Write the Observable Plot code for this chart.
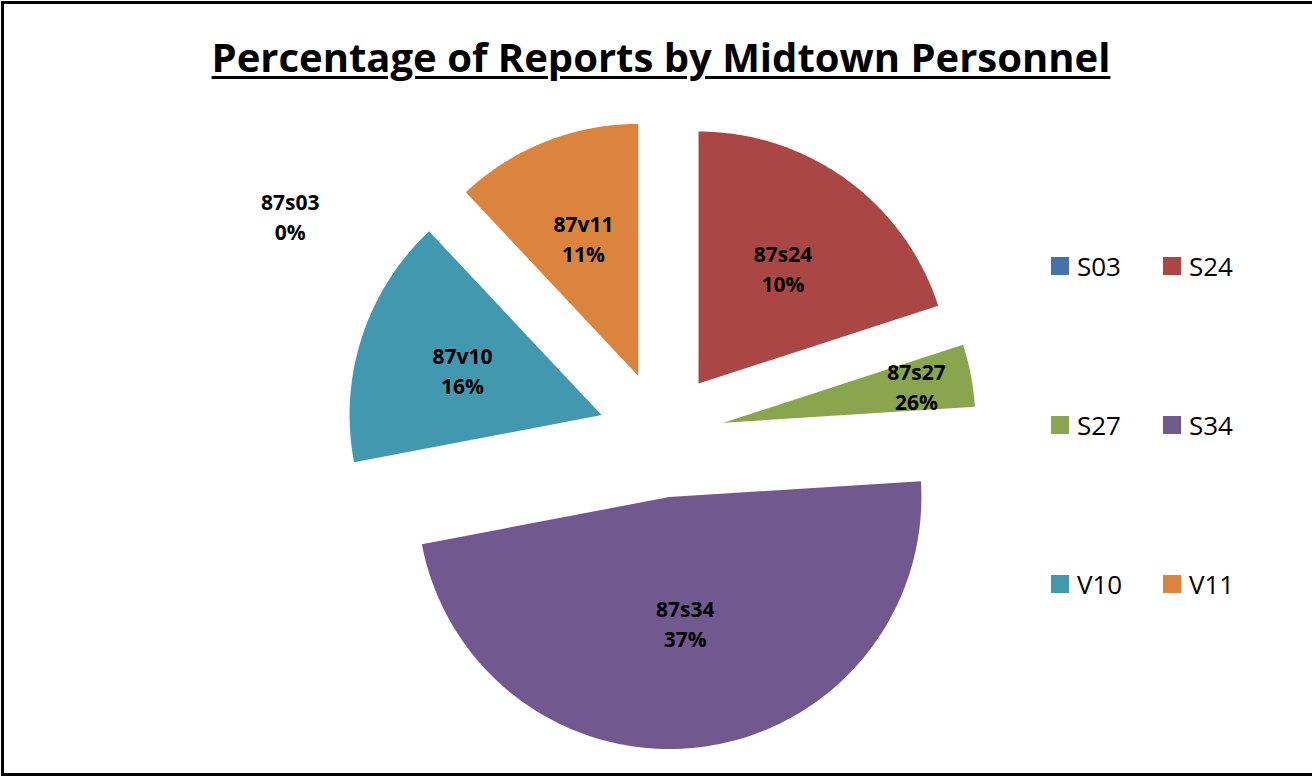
<!DOCTYPE html>
<html>
<head>
<meta charset="utf-8">
<script src="https://cdn.jsdelivr.net/npm/d3@7"></script>
<script src="https://cdn.jsdelivr.net/npm/@observablehq/plot@0.6"></script>
<style>
  html, body { margin: 0; padding: 0; background: #fff; overflow: hidden; }
  #stage { position: relative; width: 1312px; height: 778px; overflow: hidden; }
  #frame { position: absolute; left: 1px; top: 1px; width: 1340px; height: 775px; border: 3px solid #000; box-sizing: border-box; pointer-events: none; }
  #title { position: absolute; left: 661px; top: 29px; transform: translateX(-50%); white-space: nowrap;
           font-family: "Open Sans", sans-serif; font-weight: 700; font-size: 40px; color: #000;
           text-decoration: underline; text-decoration-thickness: 3px; text-underline-offset: 4px; }
  #chart { position: absolute; left: 0; top: 0; }
  #legend { position: absolute; left: 1051px; top: 257px; display: grid; grid-template-columns: 112px 112px; grid-auto-rows: 159px; }
  .item { display: flex; align-items: flex-start; height: 18px; font-family: "Open Sans", sans-serif; font-size: 26px; color: #000; }
  .sw { width: 18px; height: 18px; flex: none; margin-right: 8px; }
  .lab { line-height: 18px; }
</style>
</head>
<body>
<div id="stage">
  <div id="chart"></div>
  <div id="title">Percentage of Reports by Midtown Personnel</div>
  <div id="legend"></div>
  <div id="frame"></div>
</div>
<script>
// ---- data ----
const keys = ["S03", "S24", "S27", "S34", "V10", "V11"];
const values = [0, 20, 4, 48, 16, 12];
const colors = ["#4572A7", "#AA4643", "#89A54E", "#71588F", "#4198AF", "#DB843D"];
const labelNames = ["87s03", "87s24", "87s27", "87s34", "87v10", "87v11"];
const labelPcts = ["0%", "10%", "26%", "37%", "16%", "11%"];

// ---- layout ----
const W = 1312, H = 778;
const RPX = 252;            // pie radius in px
const CX = 661, CY = 434;   // pie centre in px
const EXPLODE = 0.25;       // explosion distance, in radii
const LABEL_K_SMALL = 0.78; // label distance for thin slices
const ZERO_LABEL = {angle: 300.5, r: 1.71}; // where Excel put the empty slice's label
const labelK = v => v < 5 ? LABEL_K_SMALL : 0.62 - 0.0025 * v;

const arcs = d3.pie().sort(null).value(d => d)(values);
const rows = [];
const labels = [];
arcs.forEach((a, i) => {
  const mid = (a.startAngle + a.endAngle) / 2;
  const ox = EXPLODE * Math.sin(mid), oy = EXPLODE * Math.cos(mid);
  rows.push({key: keys[i], x: ox, y: oy});
  const n = 120;
  for (let j = 0; j <= n; j++) {
    const t = a.startAngle + (a.endAngle - a.startAngle) * j / n;
    rows.push({key: keys[i], x: ox + Math.sin(t), y: oy + Math.cos(t)});
  }
  rows.push({key: keys[i], x: ox, y: oy});
  let lx, ly;
  if (values[i] === 0) {
    const t = ZERO_LABEL.angle * Math.PI / 180;
    lx = ZERO_LABEL.r * Math.sin(t); ly = ZERO_LABEL.r * Math.cos(t);
  } else {
    const k = labelK(values[i]);
    lx = ox + k * Math.sin(mid); ly = oy + k * Math.cos(mid);
  }
  labels.push({x: lx, y: ly, text: labelNames[i] + "\n" + labelPcts[i]});
});

const chart = Plot.plot({
  width: W, height: H, margin: 0,
  x: {domain: [-CX / RPX, (W - CX) / RPX], axis: null},
  y: {domain: [-(H - CY) / RPX, CY / RPX], axis: null},
  color: {domain: keys, range: colors},
  style: {background: "transparent", overflow: "visible"},
  marks: [
    Plot.line(rows, {x: "x", y: "y", z: "key", fill: "key", stroke: "none", curve: "linear"}),
    Plot.text(labels, {x: "x", y: "y", text: "text", fontSize: 21, fontWeight: "bold",
      fontFamily: "Open Sans, sans-serif", lineHeight: 1.43, fill: "#000", textAnchor: "middle"})
  ]
});
document.getElementById("chart").appendChild(chart);

const legend = document.getElementById("legend");
keys.forEach((k, i) => {
  const it = document.createElement("div");
  it.className = "item";
  it.innerHTML = `<span class="sw" style="background:${colors[i]}"></span><span class="lab">${k}</span>`;
  legend.appendChild(it);
});
</script>
</body>
</html>
